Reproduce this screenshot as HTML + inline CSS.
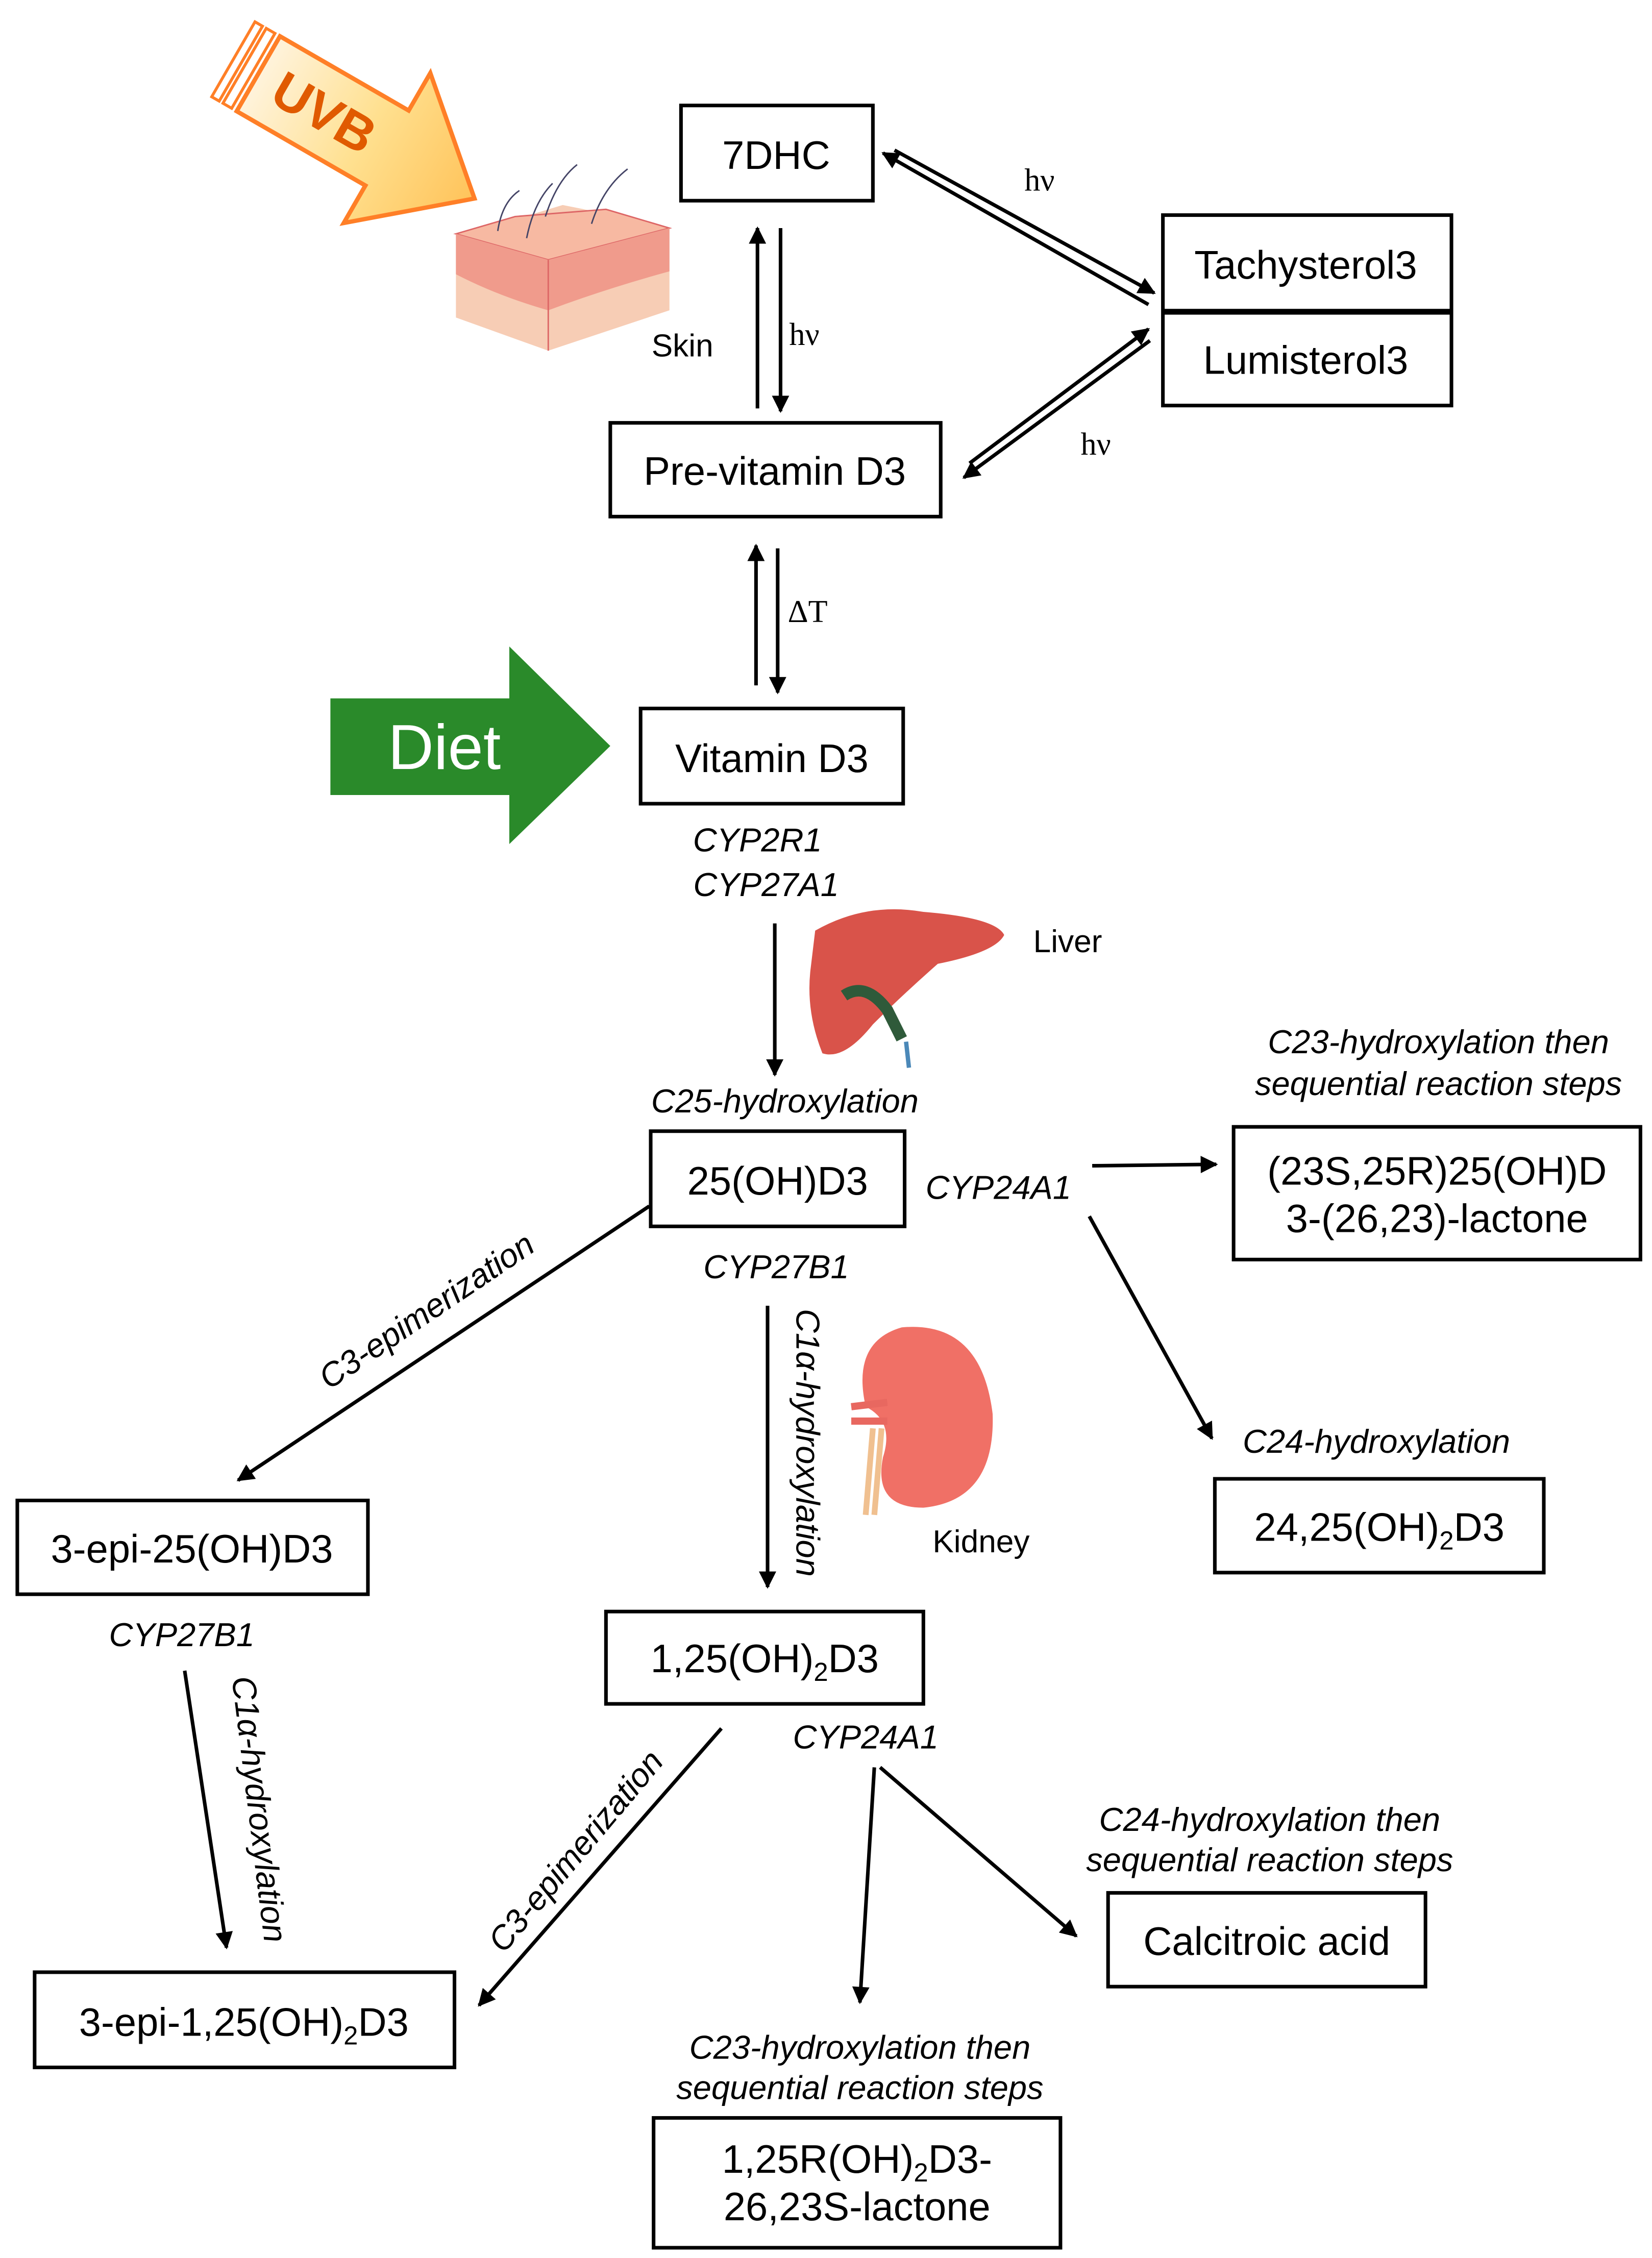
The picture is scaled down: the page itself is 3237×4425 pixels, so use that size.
<!DOCTYPE html>
<html><head><meta charset="utf-8"><style>
html,body{margin:0;padding:0;background:#fff;}
svg{display:block;}
text{font-family:"Liberation Sans",sans-serif;}
.b{font-size:27.5px;text-anchor:middle;}
.i{font-size:23px;font-style:italic;text-anchor:middle;}
.s text{font-family:"Liberation Serif",serif;font-size:22px;}
</style></head><body>
<svg width="3237" height="4425" viewBox="0 0 1145 1565" xmlns="http://www.w3.org/2000/svg">
<defs>
<marker id="m" viewBox="0 0 10 10" refX="9" refY="5" markerWidth="14" markerHeight="12" orient="auto" markerUnits="userSpaceOnUse"><path d="M0,0 L10,5 L0,10 z"/></marker>
<linearGradient id="g" x1="0" y1="0" x2="1" y2="0"><stop offset="0" stop-color="#fff3dc"/><stop offset="0.5" stop-color="#ffe08f"/><stop offset="1" stop-color="#ffc35a"/></linearGradient>
</defs>
<rect width="1145" height="1565" fill="#fff"/>
<!-- UVB arrow -->
<g transform="translate(160,40) rotate(30)">
<polygon points="22,-30 125,-30 125,-60 195,0 125,60 125,30 22,30" fill="url(#g)" stroke="#ff7f27" stroke-width="3"/>
<rect x="2" y="-30" width="6" height="60" fill="#fff" stroke="#ff7f27" stroke-width="2"/>
<rect x="11" y="-30" width="7" height="60" fill="#fff" stroke="#ff7f27" stroke-width="2"/>
<text x="75" y="13" font-size="36" font-weight="bold" fill="#e05a00" text-anchor="middle">UVB</text>
</g>
<!-- Skin -->
<polygon points="316,162 357,152 390,142 420,148 464,158 464,215 380,243 316,220" fill="#f7cdb5"/>
<polygon points="316,162 380,180 464,158 420,145 357,150" fill="#f7b9a2" stroke="#d66" stroke-width="1"/>
<path d="M316,162 L316,190 Q345,205 380,215 Q420,200 464,188 L464,158 L380,180 Z" fill="#f09b8c"/>
<line x1="380" y1="180" x2="380" y2="243" stroke="#d66" stroke-width="1"/>
<path d="M345,160 q3,-20 15,-28 M365,165 q5,-25 18,-38 M378,150 q8,-25 22,-36 M410,155 q8,-25 25,-38" stroke="#446" stroke-width="1" fill="none"/>
<!-- Diet arrow -->
<polygon points="229,484 353,484 353,448 423,517 353,585 353,551 229,551" fill="#2a8a2a"/>
<text x="308" y="533" font-size="44" fill="#fff" text-anchor="middle">Diet</text>
<!-- Liver -->
<path d="M565,645 Q600,625 640,632 Q690,636 696,648 Q690,660 650,668 Q625,690 605,710 Q585,735 570,730 Q558,700 562,670 Z" fill="#d9534a"/>
<path d="M585,690 Q600,680 615,700 L625,720" stroke="#2f5a3a" stroke-width="8" fill="none"/>
<path d="M628,722 L630,740" stroke="#4b88b8" stroke-width="3"/>
<!-- Kidney -->
<path d="M625,920 Q680,915 688,980 Q690,1040 640,1045 Q605,1045 612,1010 Q620,985 600,975 Q590,930 625,920 Z" fill="#f07066"/>
<path d="M600,1050 L605,990 M606,1050 L611,990" stroke="#f0c090" stroke-width="4"/>
<path d="M590,975 L615,972 M590,985 L615,985" stroke="#e86860" stroke-width="5"/>
<!-- Boxes -->
<g fill="none" stroke="#000" stroke-width="2.5">
<rect x="472" y="73" width="133" height="66"/>
<rect x="806" y="149" width="200" height="132"/>
<line x1="806" y1="216" x2="1006" y2="216" stroke-width="4"/>
<rect x="423" y="293" width="229" height="65"/>
<rect x="444" y="491" width="182" height="66"/>
<rect x="451" y="784" width="176" height="66"/>
<rect x="855" y="781" width="282" height="92"/>
<rect x="12" y="1040" width="243" height="65"/>
<rect x="842" y="1025" width="228" height="65"/>
<rect x="420" y="1117" width="220" height="64"/>
<rect x="768" y="1312" width="220" height="65"/>
<rect x="24" y="1367" width="291" height="66"/>
<rect x="453" y="1468" width="282" height="90"/>
</g>
<g class="b">
<text x="538" y="117">7DHC</text>
<text x="905" y="193">Tachysterol3</text>
<text x="905" y="259">Lumisterol3</text>
<text x="537" y="336">Pre-vitamin D3</text>
<text x="535" y="535">Vitamin D3</text>
<text x="539" y="828">25(OH)D3</text>
<text x="996" y="821">(23S,25R)25(OH)D</text>
<text x="996" y="854">3-(26,23)-lactone</text>
<text x="133" y="1083">3-epi-25(OH)D3</text>
<text x="956" y="1068">24,25(OH)<tspan font-size="18" dy="6">2</tspan><tspan dy="-6">D3</tspan></text>
<text x="530" y="1159">1,25(OH)<tspan font-size="18" dy="6">2</tspan><tspan dy="-6">D3</tspan></text>
<text x="878" y="1355">Calcitroic acid</text>
<text x="169" y="1411">3-epi-1,25(OH)<tspan font-size="18" dy="6">2</tspan><tspan dy="-6">D3</tspan></text>
<text x="594" y="1506">1,25R(OH)<tspan font-size="18" dy="6">2</tspan><tspan dy="-6">D3-</tspan></text>
<text x="594" y="1539">26,23S-lactone</text>
</g>
<g font-size="22" text-anchor="middle">
<text x="473" y="247">Skin</text>
<text x="740" y="660">Liver</text>
<text x="680" y="1076">Kidney</text>
</g>
<g class="s">
<text x="710" y="132">hν</text>
<text x="547" y="239">hν</text>
<text x="749" y="315">hν</text>
<text x="546" y="431">ΔT</text>
</g>
<g class="i">
<text x="525" y="590">CYP2R1</text>
<text x="531" y="621">CYP27A1</text>
<text x="544" y="771">C25-hydroxylation</text>
<text x="692" y="831">CYP24A1</text>
<text x="997" y="730">C23-hydroxylation then</text>
<text x="997" y="759">sequential reaction steps</text>
<text x="538" y="886">CYP27B1</text>
<text x="954" y="1007">C24-hydroxylation</text>
<text x="126" y="1141">CYP27B1</text>
<text x="600" y="1212">CYP24A1</text>
<text x="880" y="1269">C24-hydroxylation then</text>
<text x="880" y="1297">sequential reaction steps</text>
<text x="596" y="1427">C23-hydroxylation then</text>
<text x="596" y="1455">sequential reaction steps</text>
<text transform="translate(552,1000) rotate(90)">C1α-hydroxylation</text>
<text transform="translate(300,915) rotate(-34)">C3-epimerization</text>
<text transform="translate(172,1255) rotate(83)">C1α-hydroxylation</text>
<text transform="translate(405,1288) rotate(-50)">C3-epimerization</text>
</g>
<!-- arrows -->
<g stroke="#000" stroke-width="2.5" fill="none">
<line x1="525" y1="283" x2="525" y2="158" marker-end="url(#m)"/>
<line x1="541" y1="158" x2="541" y2="285" marker-end="url(#m)"/>
<line x1="796" y1="211" x2="612" y2="106" marker-end="url(#m)"/>
<line x1="620" y1="104" x2="800" y2="203" marker-end="url(#m)"/>
<line x1="797" y1="236" x2="668" y2="331" marker-end="url(#m)"/>
<line x1="672" y1="321" x2="796" y2="228" marker-end="url(#m)"/>
<line x1="524" y1="475" x2="524" y2="378" marker-end="url(#m)"/>
<line x1="539" y1="380" x2="539" y2="480" marker-end="url(#m)"/>
<line x1="537" y1="640" x2="537" y2="745" marker-end="url(#m)"/>
<line x1="757" y1="808" x2="843" y2="807" marker-end="url(#m)"/>
<line x1="755" y1="843" x2="840" y2="997" marker-end="url(#m)"/>
<line x1="532" y1="905" x2="532" y2="1100" marker-end="url(#m)"/>
<line x1="450" y1="836" x2="165" y2="1026" marker-end="url(#m)"/>
<line x1="128" y1="1158" x2="157" y2="1350" marker-end="url(#m)"/>
<line x1="500" y1="1198" x2="332" y2="1390" marker-end="url(#m)"/>
<line x1="606" y1="1225" x2="596" y2="1388" marker-end="url(#m)"/>
<line x1="610" y1="1225" x2="746" y2="1342" marker-end="url(#m)"/>
</g>
</svg>
</body></html>
